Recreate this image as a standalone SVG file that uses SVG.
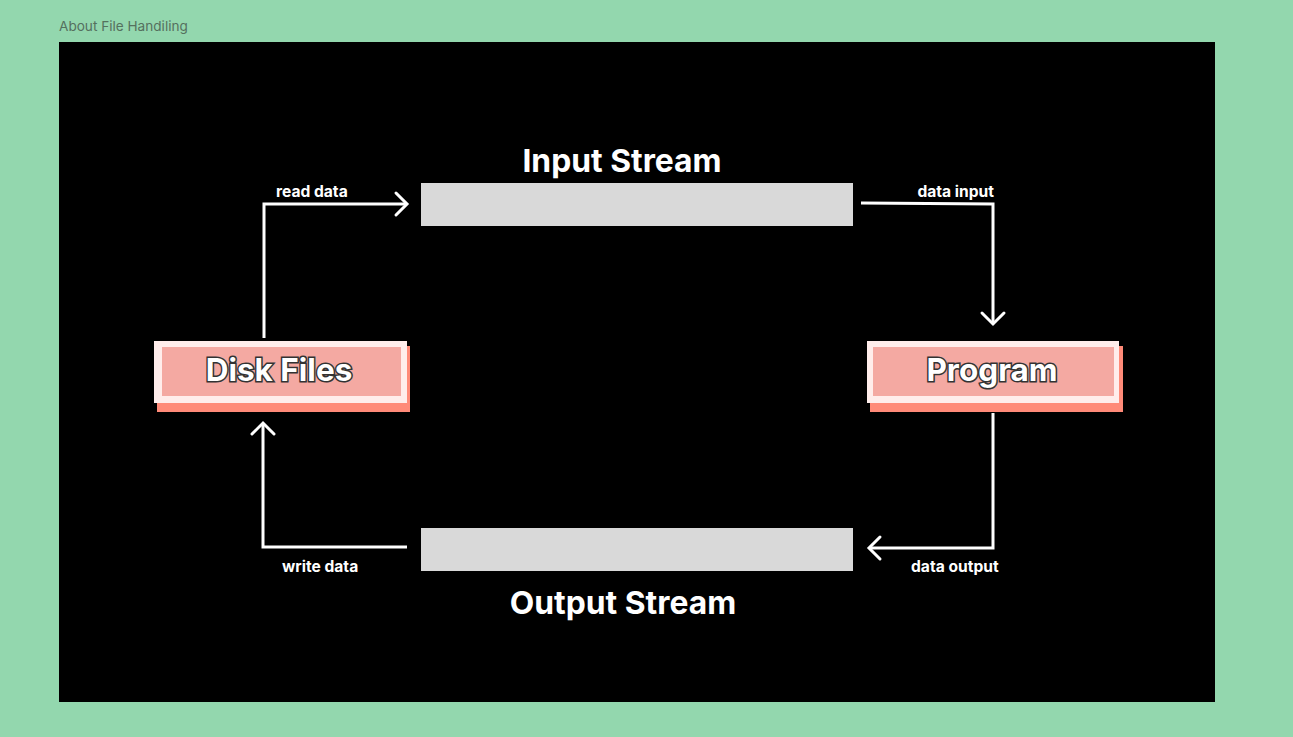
<svg xmlns="http://www.w3.org/2000/svg" width="1293" height="737" viewBox="0 0 1293 737">
<style>
.lbl{font-family:Inter,"Liberation Sans",sans-serif;font-weight:700;font-size:15.6px;fill:#fff}
.head{font-family:Inter,"Liberation Sans",sans-serif;font-weight:700;font-size:31.8px;fill:#fff;text-anchor:middle}
.node-t{font-family:Inter,"Liberation Sans",sans-serif;font-weight:700;font-size:31.5px;fill:#fff;stroke:#333;stroke-width:3px;paint-order:stroke;text-anchor:middle}
.conn{fill:none;stroke:#fff;stroke-width:3;stroke-linejoin:miter}
.bar{fill:#D9D9D9}
.shadow{fill:#FF8A78}
.frame{fill:#FFEDEB}
.inner{fill:#F4A9A2}
</style>
<defs>
<marker id="arr" markerUnits="userSpaceOnUse" viewBox="-14 -14 16 28" refX="0" refY="0" markerWidth="16" markerHeight="28" orient="auto" overflow="visible">
<polyline points="-11,-11 0,0 -11,11" fill="none" stroke="#fff" stroke-width="3" stroke-linecap="round"/>
</marker>
</defs>
<rect width="1293" height="737" fill="#93D7AE"/>
<text x="59" y="31" font-family="Inter,'Liberation Sans',sans-serif" font-size="13.6" fill="#55705E">About File Handiling</text>
<rect x="59" y="42" width="1156" height="660" fill="#000"/>
<g id="input-stream">
<rect class="bar" x="421" y="183" width="432" height="43"/>
<text class="head" x="622" y="172">Input Stream</text>
</g>
<g id="output-stream">
<rect class="bar" x="421" y="528" width="432" height="43"/>
<text class="head" x="623" y="614">Output Stream</text>
</g>
<g id="disk-files">
<rect class="shadow" x="157" y="346" width="253" height="66"/>
<rect class="frame" x="154" y="341" width="253" height="62"/>
<rect class="inner" x="162" y="347" width="239" height="49"/>
<text class="node-t" x="279" y="381">Disk Files</text>
</g>
<g id="program">
<rect class="shadow" x="870" y="346" width="253" height="66"/>
<rect class="frame" x="867" y="341" width="252" height="62"/>
<rect class="inner" x="873" y="347" width="241" height="49"/>
<text class="node-t" x="992" y="381">Program</text>
</g>
<g id="connectors">
<polyline class="conn" points="264,338 264,204 407,204" marker-end="url(#arr)"/>
<polyline class="conn" points="861,203 993,204 993,324" marker-end="url(#arr)"/>
<polyline class="conn" points="993,413 993,548 869,548" marker-end="url(#arr)"/>
<polyline class="conn" points="407,547 263,547 263,423" marker-end="url(#arr)"/>
<text class="lbl" x="276" y="197">read data</text>
<text class="lbl" x="994" y="197" text-anchor="end">data input</text>
<text class="lbl" x="282" y="572">write data</text>
<text class="lbl" x="911" y="572">data output</text>
</g>
</svg>
